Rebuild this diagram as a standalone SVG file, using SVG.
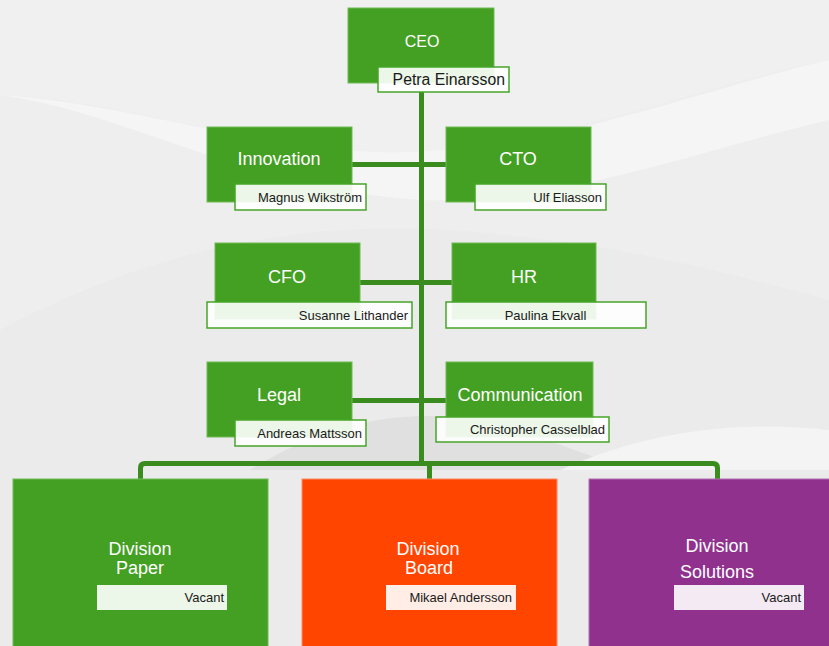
<svg xmlns="http://www.w3.org/2000/svg" width="829" height="646" viewBox="0 0 829 646">
<style>
.box{stroke-width:1;}
.g{fill:#43a023;stroke:#6fba55;}
.o{fill:#ff4500;stroke:#ff8a66;}
.p{fill:#90318e;stroke:#b070ae;}
.t{font-family:"Liberation Sans",Arial,sans-serif;font-size:18px;fill:#ffffff;text-anchor:middle;}
.ceo{font-size:16px;}
.lbl{fill:#ffffff;fill-opacity:0.9;stroke:#45a527;stroke-width:1.5;}
.lbl2{fill:#ffffff;fill-opacity:0.9;}
.n{font-family:"Liberation Sans",Arial,sans-serif;font-size:13px;fill:#1a1a1a;text-anchor:end;}
.big{font-size:15.8px;}
.c{fill:none;stroke:#3a8c1e;stroke-width:5;stroke-linejoin:round;}
</style>
<rect width="829" height="646" fill="#eeeeee"/>
<path d="M0 95 C150 100 300 170 450 150 C600 130 720 80 829 60 L829 0 L0 0 Z" fill="#f0f0f0"/>
<path d="M0 95 C120 110 250 190 420 200 C560 205 700 150 829 120 L829 60 C700 90 580 140 440 150 C300 165 150 105 0 95 Z" fill="#f5f5f5"/>
<path d="M0 330 C150 250 300 220 450 230 C600 240 720 270 829 300 L829 646 L0 646 Z" fill="#ebebeb"/>
<path d="M250 470 C330 420 420 400 520 430 C560 445 600 460 640 470 L250 470 Z" fill="#e0e0e0"/>
<path d="M560 470 C650 430 740 420 829 430 L829 470 Z" fill="#f4f4f4"/>

<g id="connectors">
<path class="c" d="M421.5 92 V463"/>
<path class="c" d="M352 164.5 H446"/>
<path class="c" d="M360 282.5 H452"/>
<path class="c" d="M352 400.5 H446"/>
<path class="c" d="M140.5 480 V468 Q140.5 463.5 145 463.5 H713 Q717.5 463.5 717.5 468 V480"/>
<path class="c" d="M429.5 463 V480"/>
</g>

<g id="ceo">
<rect class="box g" x="348" y="8" width="146" height="75"/>
<text class="t ceo" x="422" y="47">CEO</text>
<rect class="lbl" x="378" y="67" width="131" height="25"/>
<text class="n big" x="505" y="85">Petra Einarsson</text>
</g>

<g id="innovation">
<rect class="box g" x="207" y="127" width="145" height="75"/>
<text class="t" x="279" y="165">Innovation</text>
<rect class="lbl" x="235" y="184" width="131" height="26"/>
<text class="n" x="362" y="202">Magnus Wikström</text>
</g>

<g id="cto">
<rect class="box g" x="446" y="127" width="145" height="75"/>
<text class="t" x="518" y="165">CTO</text>
<rect class="lbl" x="475" y="184" width="131" height="26"/>
<text class="n" x="602" y="202">Ulf Eliasson</text>
</g>

<g id="cfo">
<rect class="box g" x="215" y="243" width="145" height="76"/>
<text class="t" x="287" y="283">CFO</text>
<rect class="lbl" x="207" y="302" width="205" height="26"/>
<text class="n" x="408" y="320">Susanne Lithander</text>
</g>

<g id="hr">
<rect class="box g" x="452" y="243" width="144" height="76"/>
<text class="t" x="524" y="283">HR</text>
<rect class="lbl" x="446" y="302" width="200" height="26"/>
<text class="n" x="545.5" y="320" style="text-anchor:middle">Paulina Ekvall</text>
</g>

<g id="legal">
<rect class="box g" x="207" y="362" width="145" height="75"/>
<text class="t" x="279" y="401">Legal</text>
<rect class="lbl" x="235" y="420" width="131" height="26"/>
<text class="n" x="362" y="438">Andreas Mattsson</text>
</g>

<g id="communication">
<rect class="box g" x="446" y="362" width="147" height="75"/>
<text class="t" x="520" y="401">Communication</text>
<rect class="lbl" x="436" y="417" width="173" height="25"/>
<text class="n" x="605" y="434">Christopher Casselblad</text>
</g>

<g id="division-paper">
<rect class="box g" x="13" y="479" width="255" height="180"/>
<text class="t" x="140" y="555">Division</text>
<text class="t" x="140" y="574">Paper</text>
<rect class="lbl2" x="97" y="585" width="130" height="25"/>
<text class="n" x="224" y="602">Vacant</text>
</g>

<g id="division-board">
<rect class="box o" x="302" y="479" width="255" height="180"/>
<text class="t" x="428" y="555">Division</text>
<text class="t" x="429" y="574">Board</text>
<rect class="lbl2" x="386" y="585" width="130" height="25"/>
<text class="n" x="512" y="602">Mikael Andersson</text>
</g>

<g id="division-solutions">
<rect class="box p" x="589" y="479" width="255" height="180"/>
<text class="t" x="717" y="552">Division</text>
<text class="t" x="717" y="578">Solutions</text>
<rect class="lbl2" x="674" y="585" width="130" height="25"/>
<text class="n" x="801" y="602">Vacant</text>
</g>
</svg>
